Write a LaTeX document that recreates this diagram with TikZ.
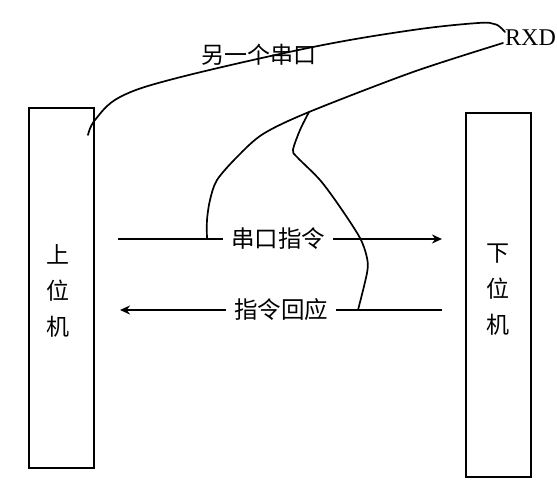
\documentclass[tikz,border=0pt]{standalone}
\usepackage{fontspec}
\newfontfamily\cjk{Noto Sans CJK SC}
\newfontfamily\rxdfont{Liberation Serif}
\usetikzlibrary{arrows.meta}
\tikzset{
  devbox/.style={draw, line width=1.8pt, minimum width=65pt, inner sep=0pt},
  devlbl/.style={align=center, font=\cjk\fontsize{23}{36}\selectfont, inner sep=0pt},
  msg/.style={font=\cjk\fontsize{23.5}{26}\selectfont, inner xsep=8pt, inner ysep=2pt},
  wire/.style={line width=1.8pt},
  wirearrow/.style={line width=1.8pt, -{Stealth[length=10pt,width=9pt]}},
  cable/.style={line width=1.7pt, line join=round, line cap=round}
}
\begin{document}
\begin{tikzpicture}[x=1pt,y=-1pt]
\useasboundingbox (0,0) rectangle (557,500);
% devices
\node[devbox, minimum height=360pt] (host) at (61.5,288) {};
\node[devlbl] (hostlbl) at (58,291) {上\\位\\机};
\node[devbox, minimum height=364pt] (dev) at (498.5,295) {};
\node[devlbl] (devlbl) at (498,290) {下\\位\\机};
% command arrow
\coordinate (cmds) at (118,239);
\coordinate (cmde) at (442,239);
\node[msg] (cmd) at (278,239) {串口指令};
\draw[wire] (cmds) -- (cmd.west);
\draw[wirearrow] (cmd.east) -- (cmde);
% response arrow
\coordinate (resps) at (442,310);
\coordinate (respe) at (120,310);
\node[msg] (resp) at (281,310) {指令回应};
\draw[wire] (resps) -- (resp.east);
\draw[wirearrow] (resp.west) -- (respe);
% RXD label and other serial port
\node[font=\rxdfont\fontsize{24}{26}\selectfont, inner sep=1pt] (rxd) at (530.5,38) {RXD};
\node[font=\cjk\fontsize{23}{26}\selectfont, inner sep=0pt] (other) at (258.5,55) {另一个串口};
\coordinate (hostport) at (88,135);
\coordinate (j) at (309,112);
\coordinate (tapcmd) at (207,239);
\coordinate (tapresp) at (358,310);
\draw[cable] plot[smooth, tension=0.6] coordinates {(hostport) (95,120) (120,97) (177,78) (313,47) (413,30) (478,23) (494,24) (500,27) (505,32)};
\draw[cable] plot[smooth, tension=0.5] coordinates {(503,43) (413,72) (j) (263,134) (237,157) (217,180) (210,200) (207,220) (tapcmd)};
\draw[cable] plot[smooth, tension=0.5] coordinates {(j) (300,130) (293,150) (297,157) (320,180) (340,207) (360,238) (367,258) (367,273) (tapresp)};
\end{tikzpicture}
\end{document}
